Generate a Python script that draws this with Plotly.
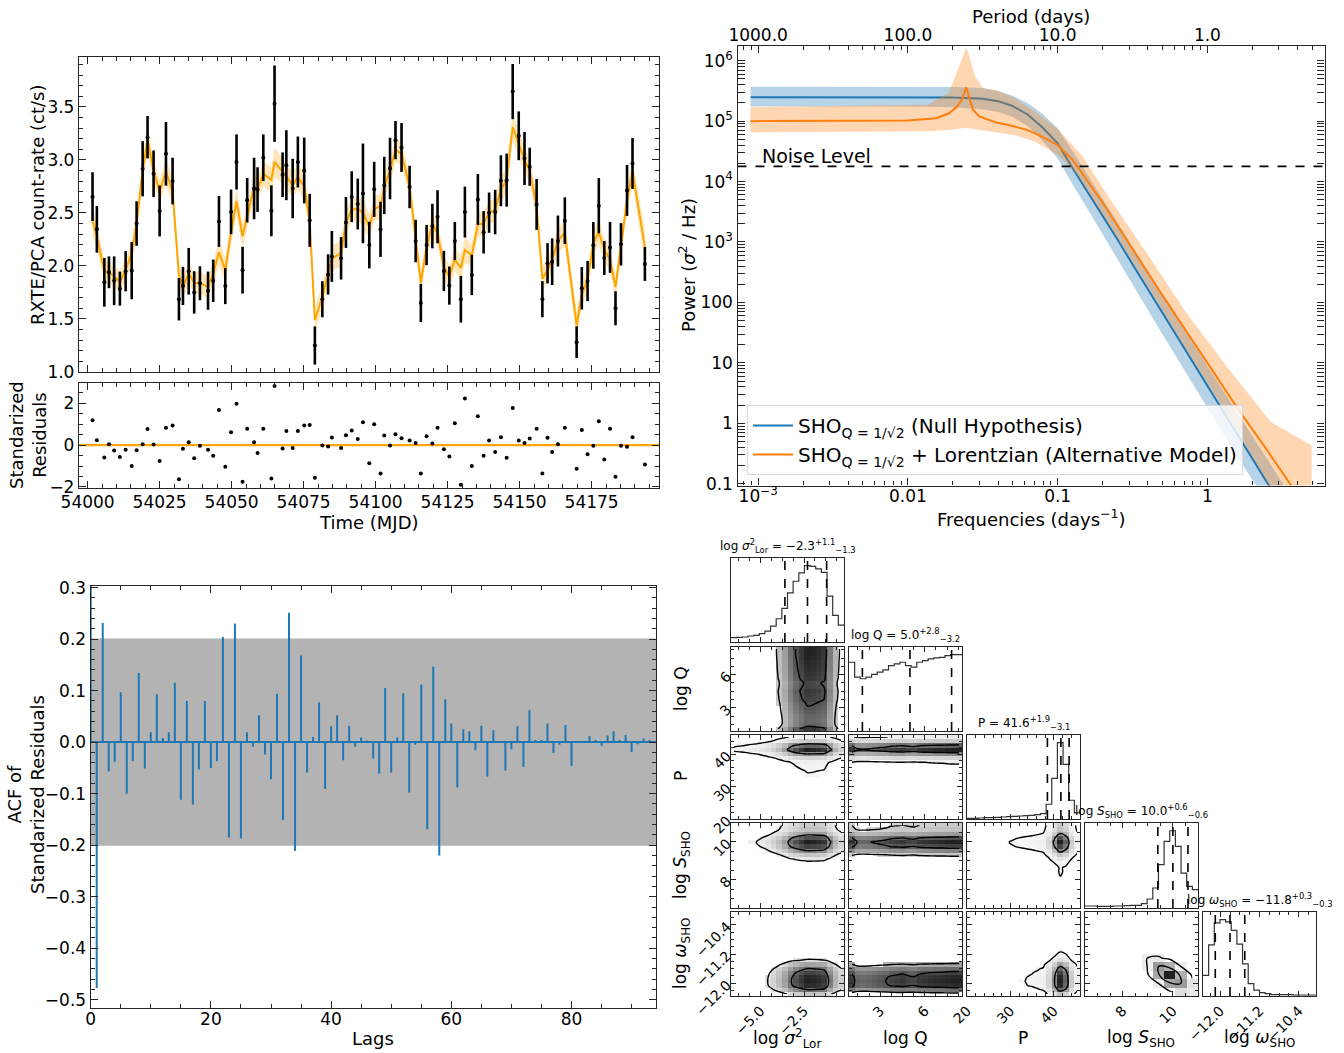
import numpy as np
import plotly.graph_objects as go

FIG_W, FIG_H = 1344, 1053
FONT = "DejaVu Sans"
AX = "#262626"


def fx(p):
    return p / FIG_W


def fy(p):
    return 1 - p / FIG_H


# ---------------- Light curve data ----------------
t_mjd = [54001.7, 54003.2, 54005.8, 54007.4, 54009.2, 54011.2, 54013.2, 54015.3, 54017.0, 54019.1,
         54020.8, 54022.9, 54025.0, 54027.2, 54029.5, 54031.7, 54033.1, 54035.1, 54037.0, 54039.0,
         54041.8, 54043.6, 54045.6, 54047.8, 54049.8, 54051.7, 54053.8, 54055.4, 54057.8, 54059.0,
         54061.0, 54063.8, 54064.9, 54067.7, 54069.0, 54071.2, 54073.0, 54075.2, 54077.1, 54078.9,
         54081.5, 54083.5, 54084.8,
         54088.0, 54089.7, 54091.7, 54093.8, 54095.6, 54097.8, 54099.5, 54101.7, 54103.0, 54105.0,
         54106.9, 54109.0, 54111.8, 54113.9, 54115.7, 54117.7, 54119.7, 54121.5, 54123.7, 54125.6,
         54127.5, 54129.6, 54131.0, 54133.4, 54135.5, 54137.5, 54139.4, 54141.5, 54143.5, 54145.5,
         54147.6, 54149.7, 54151.7, 54153.5, 54155.9, 54157.9, 54159.7, 54161.3, 54163.3, 54165.7,
         54169.8, 54171.6, 54173.6, 54175.6, 54177.5, 54179.4, 54181.4, 54183.3, 54185.2, 54187.3,
         54189.2, 54193.5]
rate = [2.653, 2.345, 1.846, 1.94, 1.86, 1.786, 1.95, 1.956, 2.40, 2.916,
        3.214, 2.869, 2.518, 3.057, 2.80, 1.686, 1.811, 1.95, 1.75, 1.837,
        1.767, 1.86, 2.42, 1.81, 2.51, 2.98, 1.96, 2.62, 2.73, 2.72,
        3.02, 2.52, 3.53, 2.86, 2.95, 2.73, 2.98, 2.90, 2.43, 1.25,
        1.686, 1.92, 2.09,
        2.072, 2.41, 2.653, 2.584, 2.684, 2.197, 2.722, 2.345, 2.759, 2.919,
        3.186, 3.117, 2.744, 2.235, 1.651, 2.197, 2.376, 2.464, 1.953, 1.815,
        2.235, 1.686, 2.508, 1.915, 2.627, 2.317, 2.502, 2.508, 2.803, 2.809,
        3.644, 3.227, 3.013, 2.935, 2.580, 1.686, 2.025, 2.040, 2.235, 2.427,
        1.281, 1.789, 1.858, 2.194, 2.568, 2.075, 2.175, 1.601, 2.204, 2.712,
        2.966, 2.019]
rate_err = [0.23, 0.22, 0.23, 0.15, 0.23, 0.16, 0.19, 0.27, 0.21, 0.26,
            0.20, 0.22, 0.24, 0.30, 0.22, 0.20, 0.18, 0.22, 0.20, 0.16,
            0.18, 0.20, 0.24, 0.17, 0.21, 0.26, 0.22, 0.21, 0.29, 0.21,
            0.22, 0.24, 0.36, 0.21, 0.33, 0.28, 0.24, 0.31, 0.25, 0.18,
            0.17, 0.19, 0.24,
            0.20, 0.24, 0.24, 0.24, 0.47, 0.22, 0.26, 0.26, 0.27, 0.29,
            0.18, 0.23, 0.20, 0.20, 0.18, 0.19, 0.21, 0.25, 0.19, 0.18,
            0.18, 0.22, 0.24, 0.19, 0.24, 0.20, 0.19, 0.21, 0.24, 0.25,
            0.26, 0.23, 0.25, 0.18, 0.24, 0.17, 0.19, 0.22, 0.24, 0.22,
            0.15, 0.20, 0.19, 0.22, 0.26, 0.16, 0.24, 0.16, 0.20, 0.24,
            0.24, 0.16]
model = [2.42, 2.28, 1.95, 1.94, 1.90, 1.85, 1.96, 2.12, 2.40, 2.90,
         3.19, 2.90, 2.70, 2.89, 2.70, 1.91, 1.80, 1.93, 1.84, 1.84,
         1.80, 1.93, 2.13, 1.96, 2.32, 2.61, 2.28, 2.46, 2.75, 2.72,
         2.87, 2.81, 2.98, 2.89, 2.84, 2.76, 2.84, 2.75, 2.43, 1.49,
         1.71, 1.93, 2.07,
         2.12, 2.41, 2.53, 2.54, 2.50, 2.37, 2.54, 2.56, 2.75, 2.90,
         3.09, 3.06, 2.75, 2.24, 1.84, 2.18, 2.39, 2.31, 1.99, 1.90,
         2.06, 1.98, 2.15, 2.10, 2.39, 2.40, 2.50, 2.53, 2.72, 2.81,
         3.31, 3.15, 3.00, 2.90, 2.56, 1.88, 1.96, 2.06, 2.24, 2.31,
         1.44, 1.73, 1.87, 2.21, 2.32, 2.15, 2.06, 1.80, 2.21, 2.62,
         2.89, 2.18]
model_err = [0.14, 0.11, 0.11, 0.10, 0.10, 0.10, 0.10, 0.11, 0.11, 0.12,
             0.11, 0.11, 0.11, 0.12, 0.12, 0.11, 0.10, 0.10, 0.10, 0.10,
             0.11, 0.10, 0.12, 0.11, 0.12, 0.12, 0.12, 0.11, 0.12, 0.11,
             0.12, 0.12, 0.14, 0.12, 0.12, 0.12, 0.12, 0.13, 0.12, 0.12,
             0.11, 0.11, 0.12,
             0.12, 0.12, 0.11, 0.11, 0.13, 0.12, 0.12, 0.12, 0.12, 0.12,
             0.11, 0.11, 0.11, 0.11, 0.11, 0.11, 0.11, 0.12, 0.11, 0.11,
             0.11, 0.12, 0.12, 0.11, 0.12, 0.11, 0.11, 0.11, 0.12, 0.12,
             0.13, 0.12, 0.12, 0.11, 0.12, 0.11, 0.11, 0.11, 0.12, 0.12,
             0.13, 0.11, 0.11, 0.11, 0.12, 0.11, 0.11, 0.11, 0.11, 0.12,
             0.12, 0.15]
resid = [1.19, 0.24, -0.59, 0.05, -0.25, -0.57, -0.22, -1.0, -0.24, 0.05,
         0.78, 0.03, -0.76, 0.83, 0.94, -1.63, -0.17, 0.14, -0.62, -0.03,
         -0.22, -0.51, 1.68, -1.03, 0.62, 1.98, -1.75, 0.79, 0.14, -0.38,
         0.79, -1.59, 2.83, -0.16, 0.68, -0.13, 0.68, 0.94, 0.97, -1.56,
         -0.02, -0.06, 0.37, -0.14, 0.48, 0.70, 0.29, 1.10, -0.87, 1.0,
         -1.35, 0.46, -0.02, 0.52, 0.33, 0.22, 0.11, -1.35, 0.43, 0.08,
         0.83, -0.19, -0.54, 1.05, -1.90, 2.24, -1.0, 1.38, -0.51, 0.22,
         -0.33, 0.38, -0.6, 1.78, 0.22, 0.10, 0.32, 0.79, -1.35, 0.35,
         -0.33, 0.05, 0.83, -1.13, 0.73, -0.44, -0.03, 1.14, -0.68, 0.79,
         -1.51, -0.03, -0.08, 0.38, -0.92]

# ---------------- ACF data ----------------
acf = [1.0, -0.477, 0.231, -0.057, -0.038, 0.097, -0.100, -0.037, 0.134, -0.051,
       0.019, 0.093, 0.008, 0.019, 0.115, -0.112, 0.080, -0.121, -0.053, 0.080,
       -0.050, -0.037, 0.204, -0.185, 0.230, -0.187, 0.019, -0.009, 0.052, -0.024,
       -0.072, 0.094, -0.151, 0.251, -0.211, 0.168, -0.059, 0.010, 0.077, -0.091,
       0.031, 0.052, -0.035, 0.032, -0.009, 0.009, 0.003, -0.032, -0.061, 0.105,
       -0.059, 0.009, 0.095, -0.098, -0.005, 0.112, -0.169, 0.147, -0.220, 0.083,
       0.036, -0.088, 0.025, 0.021, -0.016, 0.032, -0.067, 0.023, -0.001, -0.055,
       -0.014, 0.031, -0.048, 0.062, 0.004, 0.004, 0.036, -0.021, -0.005, 0.033,
       -0.046, 0.002, 0.0, 0.012, 0.004, -0.007, 0.013, 0.021, 0.004, 0.014,
       -0.019, -0.004, 0.007, 0.004]
acf_conf = 0.201

# ---------------- PSD data ----------------
null_f = [0.00089, 0.002, 0.005, 0.01, 0.02, 0.0316, 0.04, 0.05, 0.063, 0.079,
          0.1, 0.126, 0.158, 0.2, 0.251, 0.316, 0.5, 1.0, 1.585, 2.57, 3.2]
null_p = [2.49e5, 2.49e5, 2.49e5, 2.48e5, 2.45e5, 2.34e5, 2.14e5, 1.78e5, 1.29e5, 7.9e4,
          4.3e4, 1.66e4, 6.9e3, 2.75e3, 1.10e3, 427, 68, 4.2, 0.66, 0.095, 0.039]
null_hi = [3.7e5, 3.7e5, 3.7e5, 3.7e5, 3.68e5, 3.55e5, 3.16e5, 2.63e5, 2.0e5, 1.32e5,
           7.6e4, 3.16e4, 1.32e4, 5.2e3, 2.1e3, 832, 135, 8.9, 1.5, 0.24, 0.1]
null_lo = [1.74e5, 1.74e5, 1.74e5, 1.74e5, 1.70e5, 1.58e5, 1.41e5, 1.17e5, 8.3e4, 4.8e4,
           2.4e4, 8.9e3, 3.55e3, 1.35e3, 525, 200, 30, 1.78, 0.28, 0.045, 0.018]

alt_f = [0.000887, 0.00316, 0.01, 0.0155, 0.0188, 0.0215, 0.0233, 0.0245, 0.0259, 0.0272,
         0.0299, 0.0389, 0.0501, 0.0631, 0.0794, 0.1, 0.126, 0.158, 0.2, 0.251,
         0.316, 0.5, 1.0, 1.585, 2.51, 3.63]
alt_p = [1.0e5, 1.0e5, 1.02e5, 1.12e5, 1.35e5, 1.78e5, 2.45e5, 3.63e5, 2.4e5, 1.55e5,
         1.2e5, 9.5e4, 8.3e4, 7.1e4, 5.5e4, 4.0e4, 2.29e4, 1.05e4, 4.47e3, 1.86e3,
         759, 132, 10, 1.78, 0.355, 0.093]
alt_hi_f = [0.000887, 0.01355, 0.0188, 0.0215, 0.0234, 0.0245, 0.0257, 0.028, 0.0319, 0.0389,
            0.0507, 0.0705, 0.1014, 0.1455, 0.2163, 0.3664, 0.7096, 1.374, 2.655, 4.966]
alt_hi = [1.7e5, 1.86e5, 2.95e5, 7.2e5, 1.29e6, 1.66e6, 1.2e6, 5.6e5, 3.47e5, 3.24e5,
          2.45e5, 1.45e5, 7.1e4, 2.69e4, 5.75e3, 851, 72, 8.1, 1.05, 0.43]
alt_lo_f = [0.000887, 0.01355, 0.0188, 0.0245, 0.0299, 0.0507, 0.0705, 0.1014, 0.1365, 0.1897,
            0.3664, 0.7096, 1.374, 2.178, 2.57, 4.966]
alt_lo = [6.5e4, 6.8e4, 7.1e4, 7.8e4, 7.1e4, 5.9e4, 4.6e4, 2.69e4, 1.26e4, 3.47e3,
          263, 17.8, 1.35, 0.195, 0.093, 0.005]
noise_level = 1.78e4
noise_label_f = 0.00103

# ---------------- Corner data ----------------
h_sig = [13, 14, 15, 18, 20, 25, 33, 48, 70, 101, 148, 183, 208, 230, 228, 220, 210, 138, 80, 51]
h_Q = [208, 163, 158, 163, 171, 178, 185, 198, 203, 208, 198, 193, 208, 213, 218, 221, 223, 228, 231, 231]
h_P = [2, 2, 3, 4, 4, 5, 6, 7, 8, 9, 10, 11, 13, 16, 44, 121, 228, 163, 56, 18]
h_S = [6, 6, 5, 5, 5, 6, 6, 7, 8, 8, 13, 27, 60, 130, 200, 232, 185, 105, 65, 55]
h_w = [63, 156, 223, 233, 226, 200, 158, 98, 38, 18, 10, 7, 4, 4, 4, 4, 3, 3, 3, 3]

# log S_SHO (cols) vs log omega_SHO (rows, low -> high) joint counts
sw_grid = [[0, 0, 0, 0, 0, 0, 1, 5, 15, 10],
           [0, 0, 0, 0, 0, 1, 8, 40, 45, 12],
           [0, 0, 0, 0, 1, 4, 40, 100, 35, 5],
           [0, 0, 0, 1, 2, 8, 45, 35, 8, 1],
           [0, 0, 1, 1, 3, 8, 10, 4, 1, 0],
           [0, 0, 1, 1, 2, 2, 1, 1, 0, 0],
           [0, 0, 0, 1, 1, 1, 0, 0, 0, 0],
           [0, 0, 0, 0, 1, 0, 0, 0, 0, 0],
           [0, 0, 0, 0, 0, 0, 0, 0, 0, 0],
           [0, 0, 0, 0, 0, 0, 0, 0, 0, 0]]

corner_ranges = [(-6.7, -0.2), (0.9, 8.5), (20.0, 46.0), (6.5, 11.0), (-12.35, -10.05)]
corner_hists = [h_sig, h_Q, h_P, h_S, h_w]
corner_median = [-2.3, 5.0, 41.6, 10.0, -11.8]
corner_plus = [1.1, 2.8, 1.9, 0.6, 0.3]
corner_minus = [1.3, 3.2, 3.1, 0.6, 0.3]
corner_names = ["log <i>σ</i><sup>2</sup><sub>Lor</sub>", "log Q", "P",
                "log <i>S</i><sub>SHO</sub>", "log <i>ω</i><sub>SHO</sub>"]
corner_major = [[-5.0, -2.5], [3, 6], [20, 30, 40], [8, 10], [-12.0, -11.2, -10.4]]
corner_major_text = [["−5.0", "−2.5"], ["3", "6"], ["20", "30", "40"], ["8", "10"],
                     ["−12.0", "−11.2", "−10.4"]]
corner_minor_step = [0.625, 0.75, 2, 0.5, 0.2]
corner_minor_0 = [-5.0, 3, 20, 8, -12.0]

# ---------------- helpers ----------------
layout = {}
annots = []
fig = go.Figure()


def axis(domain, anchor, **kw):
    d = dict(domain=domain, anchor=anchor, showline=True, linecolor=AX, linewidth=1.3,
             mirror="allticks", ticks="inside", ticklen=7, tickwidth=1.2, tickcolor=AX,
             showgrid=False, zeroline=False, automargin=False,
             tickfont=dict(family=FONT, size=17, color="black"))
    d.update(kw)
    return d


def minor(**kw):
    d = dict(ticks="inside", ticklen=4, tickwidth=1, tickcolor=AX, showgrid=False)
    d.update(kw)
    return d


def title(text, x, y, size=18, angle=0):
    annots.append(dict(text=text, x=fx(x), y=fy(y), xref="paper", yref="paper",
                       showarrow=False, textangle=angle, xanchor="center", yanchor="middle",
                       font=dict(family=FONT, size=size, color="black"), align="center"))


# ---------------- Light curve ----------------
lc_xrange = [53997.0, 54198.4]
upper = [m + e for m, e in zip(model, model_err)]
lower = [m - e for m, e in zip(model, model_err)]
fig.add_trace(go.Scatter(x=t_mjd + t_mjd[::-1], y=upper + lower[::-1], fill="toself",
                         fillcolor="rgba(255,165,0,0.28)", line=dict(width=0),
                         xaxis="x", yaxis="y", showlegend=False, hoverinfo="skip"))
fig.add_trace(go.Scatter(x=t_mjd, y=model, mode="lines", line=dict(color="#FFA500", width=2),
                         xaxis="x", yaxis="y", showlegend=False))
fig.add_trace(go.Scatter(x=t_mjd, y=rate, mode="markers", marker=dict(color="black", size=4),
                         error_y=dict(type="data", array=rate_err, color="black",
                                      thickness=2.6, width=0),
                         xaxis="x", yaxis="y", showlegend=False))
layout["xaxis"] = axis([fx(79), fx(659)], "y", range=lc_xrange, tick0=54000, dtick=25,
                       showticklabels=False, minor=minor(tick0=54000, dtick=5))
layout["yaxis"] = axis([fy(372), fy(57)], "x", range=[1.0, 3.97], tick0=1.0, dtick=0.5,
                       tickformat=".1f", minor=minor(tick0=1.0, dtick=0.1))
title("RXTE/PCA count-rate (ct/s)", 37, 205, angle=-90)

# residuals
fig.add_trace(go.Scatter(x=lc_xrange, y=[0, 0], mode="lines", line=dict(color="#FFA500", width=2.2),
                         xaxis="x2", yaxis="y2", showlegend=False, hoverinfo="skip"))
fig.add_trace(go.Scatter(x=t_mjd, y=resid, mode="markers", marker=dict(color="black", size=4),
                         xaxis="x2", yaxis="y2", showlegend=False))
layout["xaxis2"] = axis([fx(79), fx(659)], "y2", range=lc_xrange, tick0=54000, dtick=25,
                        tickformat="d", ticklabelstandoff=-2, minor=minor(tick0=54000, dtick=5))
layout["yaxis2"] = axis([fy(488), fy(382.5)], "x2", range=[-2.05, 3.0], tickvals=[-2, 0, 2],
                        ticktext=["−2", "0", "2"], minor=minor(tick0=0, dtick=0.5))
title("Standarized<br>Residuals", 28, 435, angle=-90)
title("Time (MJD)", 369, 522)

# ---------------- PSD ----------------
psd_xr = [-3.138, 0.782]
psd_yr = [-1.03, 6.25]
fig.add_trace(go.Scatter(x=null_f + null_f[::-1], y=null_hi + null_lo[::-1], fill="toself",
                         fillcolor="rgba(31,119,180,0.32)", line=dict(width=0),
                         xaxis="x3", yaxis="y3", showlegend=False, hoverinfo="skip"))
fig.add_trace(go.Scatter(x=null_f, y=null_p, mode="lines", line=dict(color="#1f77b4", width=2),
                         xaxis="x3", yaxis="y3",
                         name="SHO<sub>Q = 1/√2</sub> (Null Hypothesis)"))
fig.add_trace(go.Scatter(x=alt_hi_f + alt_lo_f[::-1], y=alt_hi + alt_lo[::-1], fill="toself",
                         fillcolor="rgba(255,127,14,0.32)", line=dict(width=0),
                         xaxis="x3", yaxis="y3", showlegend=False, hoverinfo="skip"))
fig.add_trace(go.Scatter(x=alt_f, y=alt_p, mode="lines", line=dict(color="#ff7f0e", width=2),
                         xaxis="x3", yaxis="y3",
                         name="SHO<sub>Q = 1/√2</sub> + Lorentzian (Alternative Model)"))
fig.add_trace(go.Scatter(x=[10 ** psd_xr[0], 10 ** psd_xr[1]], y=[noise_level, noise_level],
                         mode="lines", line=dict(color="black", width=1.8, dash="dash"),
                         xaxis="x3", yaxis="y3", showlegend=False, hoverinfo="skip"))
fig.add_trace(go.Scatter(x=[1e-2], y=[1e3], mode="markers", marker=dict(opacity=0),
                         xaxis="x4", yaxis="y3", showlegend=False, hoverinfo="skip"))
annots.append(dict(text="Noise Level", x=np.log10(noise_label_f), y=np.log10(noise_level),
                   xref="x3", yref="y3", xanchor="left", yanchor="bottom", showarrow=False,
                   yshift=-3, font=dict(family=FONT, size=19, color="black")))
psd_minor_x = [m * 10.0 ** e for e in range(-4, 1) for m in range(2, 10)]
psd_minor_y = [m * 10.0 ** e for e in range(-2, 7) for m in range(2, 10)]
layout["xaxis3"] = axis([fx(737.5), fx(1324.5)], "y3", type="log", range=psd_xr,
                        tickvals=[1e-3, 1e-2, 1e-1, 1], ticktext=["10<sup>−3</sup>", "0.01", "0.1", "1"],
                        ticklabelstandoff=-5,
                        minor=minor(tickmode="array", tickvals=psd_minor_x))
layout["yaxis3"] = axis([fy(485.5), fy(45.6)], "x3", type="log", range=psd_yr,
                        tickvals=[0.1, 1, 10, 100, 1e3, 1e4, 1e5, 1e6],
                        ticktext=["0.1", "1", "10", "100", "10<sup>3</sup>", "10<sup>4</sup>",
                                  "10<sup>5</sup>", "10<sup>6</sup>"],
                        minor=minor(tickmode="array", tickvals=psd_minor_y))
layout["xaxis4"] = dict(overlaying="x3", anchor="y3", side="top", type="log", range=psd_xr,
                        tickvals=[1e-3, 1e-2, 1e-1, 1], ticktext=["1000.0", "100.0", "10.0", "1.0"],
                        ticks="", showline=False, showgrid=False, zeroline=False, automargin=False,
                        tickfont=dict(family=FONT, size=17, color="black"))
title("Period (days)", 1031, 16)
title("Frequencies (days<sup>−1</sup>)", 1031, 518)
title("Power (<i>σ</i><sup>2</sup> / Hz)", 687, 265, angle=-90)

# ---------------- ACF ----------------
acf_xr = [0, 94.06]
fig.add_trace(go.Scatter(x=[acf_xr[0], acf_xr[1], acf_xr[1], acf_xr[0]],
                         y=[-acf_conf, -acf_conf, acf_conf, acf_conf], fill="toself",
                         fillcolor="rgb(179,179,179)", line=dict(width=0), mode="lines",
                         xaxis="x5", yaxis="y5", showlegend=False, hoverinfo="skip"))
fig.add_trace(go.Scatter(x=acf_xr, y=[0, 0], mode="lines", line=dict(color="#1f77b4", width=2),
                         xaxis="x5", yaxis="y5", showlegend=False, hoverinfo="skip"))
seg_x, seg_y = [], []
for lag, v in enumerate(acf):
    seg_x += [lag, lag, None]
    seg_y += [0, v, None]
fig.add_trace(go.Scatter(x=seg_x, y=seg_y, mode="lines", line=dict(color="#1f77b4", width=2),
                         xaxis="x5", yaxis="y5", showlegend=False, hoverinfo="skip"))
layout["xaxis5"] = axis([fx(90.7), fx(656)], "y5", range=acf_xr, tick0=0, dtick=20,
                        ticklabelstandoff=-5, minor=minor(tick0=0, dtick=5))
layout["yaxis5"] = axis([fy(1008), fy(586)], "x5", range=[-0.516, 0.303], tick0=0, dtick=0.1,
                        tickformat=".1f", minor=minor(tick0=0, dtick=0.02))
title("ACF of<br>Standarized Residuals", 26, 795, angle=-90)
title("Lags", 373, 1038)

# ---------------- Corner ----------------
corner_cols = [(731, 844), (849, 962), (967, 1080), (1085, 1198), (1203, 1316)]
corner_rows = [(558, 642), (647, 731), (735, 819), (823, 908), (912, 996)]
edges = [np.linspace(lo, hi, len(h) + 1) for (lo, hi), h in zip(corner_ranges, corner_hists)]
centers = [(e[:-1] + e[1:]) / 2 for e in edges]
sw_S_edges = np.linspace(corner_ranges[3][0], corner_ranges[3][1], len(sw_grid[0]) + 1)
sw_w_edges = np.linspace(corner_ranges[4][0], corner_ranges[4][1], len(sw_grid) + 1)


def hpd_levels(Hm, fracs):
    flat = np.sort(np.asarray(Hm, float).ravel())[::-1]
    cum = np.cumsum(flat)
    cum /= cum[-1]
    return [flat[min(np.searchsorted(cum, f), len(flat) - 1)] for f in fracs]


cfont = dict(family=FONT, size=14, color="black")
n = 6
for i in range(5):
    for j in range(i + 1):
        xa, ya = f"x{n}", f"y{n}"
        c0, c1 = corner_cols[j]
        r0, r1 = corner_rows[i]
        xkw = dict(range=list(corner_ranges[j]), tickvals=corner_major[j],
                   ticktext=corner_major_text[j], ticklen=5, tickfont=cfont,
                   showticklabels=(i == 4), tickangle=-45,
                   minor=minor(tick0=corner_minor_0[j], dtick=corner_minor_step[j], ticklen=3),
                   linewidth=1.2)
        layout[f"xaxis{n}"] = axis([fx(c0), fx(c1)], ya, **xkw)
        if i == j:
            h = corner_hists[i]
            hmax = max(h)
            fig.add_trace(go.Scatter(x=list(edges[i]), y=list(h) + [h[-1]], mode="lines",
                                     line=dict(color="#333333", width=1.2, shape="hv"),
                                     xaxis=xa, yaxis=ya, showlegend=False, hoverinfo="skip"))
            med = corner_median[i]
            qs = [med - corner_minus[i], med, med + corner_plus[i]]
            qx, qy = [], []
            for q in qs:
                qx += [q, q, None]
                qy += [0, 1.1 * hmax, None]
            fig.add_trace(go.Scatter(x=qx, y=qy, mode="lines",
                                     line=dict(color="black", width=1.6, dash="dash"),
                                     xaxis=xa, yaxis=ya, showlegend=False, hoverinfo="skip"))
            layout[f"yaxis{n}"] = axis([fy(r1), fy(r0)], xa, range=[0, 1.1 * hmax],
                                       showticklabels=False, ticks="", linewidth=1.2)
            ttl = (f"{corner_names[i]} = {med:.1f}".replace("-", "−")
                   + f"<sup>+{corner_plus[i]:.1f}</sup><sub>−{corner_minus[i]:.1f}</sub>")
            annots.append(dict(text=ttl, x=fx((c0 + c1) / 2), y=fy(r0 - 1), xref="paper",
                               yref="paper", xanchor="center", yanchor="bottom", showarrow=False,
                               font=dict(family=FONT, size=12, color="black")))
        else:
            if (i, j) == (4, 3):
                Hm = np.array(sw_grid, float)
                xc = (sw_S_edges[:-1] + sw_S_edges[1:]) / 2
                yc = (sw_w_edges[:-1] + sw_w_edges[1:]) / 2
            else:
                Hm = np.outer(np.array(corner_hists[i], float), np.array(corner_hists[j], float))
                xc, yc = centers[j], centers[i]
            inner, outer = hpd_levels(Hm, [0.393, 0.865])
            zshow = np.where(Hm >= outer * 0.9, Hm, np.nan)
            fig.add_trace(go.Heatmap(z=zshow, x=xc, y=yc, zmin=0, zmax=Hm.max() * 1.15,
                                     colorscale=[[0, "#ffffff"], [1, "#000000"]],
                                     showscale=False, xaxis=xa, yaxis=ya, hoverinfo="skip"))
            step = max(inner - outer, 1e-9) * 0.999
            fig.add_trace(go.Contour(z=Hm, x=xc, y=yc,
                                     contours=dict(coloring="lines", start=outer, end=inner, size=step),
                                     colorscale=[[0, "black"], [1, "black"]], showscale=False,
                                     line=dict(width=1.4, smoothing=1.0),
                                     xaxis=xa, yaxis=ya, hoverinfo="skip"))
            layout[f"yaxis{n}"] = axis([fy(r1), fy(r0)], xa, range=list(corner_ranges[i]),
                                       tickvals=corner_major[i], ticktext=corner_major_text[i],
                                       ticklen=5, tickfont=cfont, showticklabels=(j == 0),
                                       tickangle=-45, linewidth=1.2,
                                       minor=minor(tick0=corner_minor_0[i],
                                                   dtick=corner_minor_step[i], ticklen=3))
        n += 1

corner_x_title_x = [787, 905, 1023, 1141, 1259]
corner_y_title_y = [600, 689, 776, 865, 954]
for k in range(5):
    title(corner_names[k], corner_x_title_x[k], 1038, size=17)
    if k > 0:
        title(corner_names[k], 681, corner_y_title_y[k], size=17, angle=-90)

layout.update(dict(
    width=FIG_W, height=FIG_H, margin=dict(l=0, r=0, t=0, b=0, pad=0, autoexpand=False),
    paper_bgcolor="white", plot_bgcolor="white",
    font=dict(family=FONT, color="black"),
    showlegend=True,
    legend=dict(x=fx(747), y=fy(405), xanchor="left", yanchor="top",
                bgcolor="rgba(255,255,255,0.8)", bordercolor="#d8d8d8", borderwidth=1,
                font=dict(family=FONT, size=20, color="black"), itemwidth=40),
    annotations=annots,
))
fig.update_layout(**layout)
fig.write_html("out.html")
